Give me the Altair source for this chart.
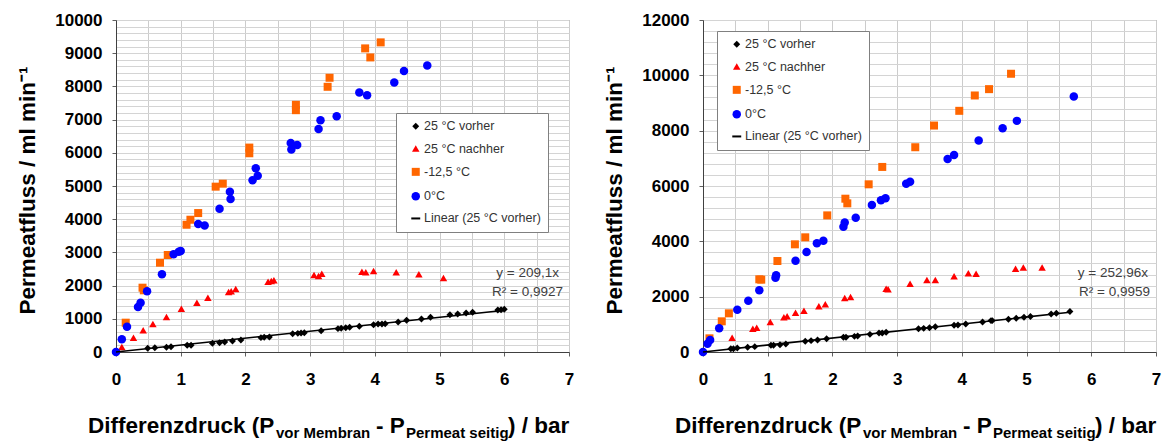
import altair as alt
import pandas as pd

FONT = "Liberation Sans"

SERIES = ["25 °C vorher", "25 °C nachher", "-12,5 °C", "0°C", "Linear (25 °C vorher)\u00a0\u00a0"]
COLORS = ["#000000", "#FF0000", "#FF6600", "#0000FF", "#000000"]
SHAPES = ["diamond", "triangle-up", "square", "circle", "stroke"]
SIZES = [48, 80, 64, 85, 324]
STROKES = ["transparent", "transparent", "transparent", "transparent", "#000000"]

# ---------------- left panel ----------------
L_vorher_x = [0.0, 0.49, 0.60, 0.78, 0.85, 1.10, 1.16, 1.49, 1.60, 1.68, 1.80, 1.93, 2.24, 2.29, 2.37,
              2.73, 2.81, 2.86, 2.91, 3.17, 3.43, 3.48, 3.55, 3.61, 3.76, 3.98, 4.05, 4.11, 4.16, 4.36,
              4.49, 4.72, 4.86, 5.16, 5.28, 5.41, 5.51, 5.90, 5.95, 6.00]
L_vorher_y = [0, 111, 130, 141, 160, 201, 201, 261, 281, 301, 331, 361, 432, 442, 452,
              552, 562, 572, 582, 642, 703, 713, 733, 743, 773, 823, 843, 843, 853, 904,
              954, 994, 1045, 1124, 1145, 1175, 1196, 1265, 1274, 1286]
L_nachher_x = [0.09, 0.27, 0.42, 0.57, 0.78, 1.01, 1.25, 1.42, 1.74, 1.78, 1.85, 2.35, 2.40, 2.44,
               3.06, 3.13, 3.18, 3.80, 3.86, 3.98, 4.33, 4.68, 5.06]
L_nachher_y = [151, 431, 653, 843, 1054, 1305, 1486, 1636, 1807, 1828, 1898, 2118, 2139, 2160,
               2319, 2289, 2359, 2419, 2400, 2440, 2400, 2340, 2229]
L_minus_x = [0.15, 0.41, 0.43, 0.68, 0.80, 1.09, 1.15, 1.27, 1.54, 1.65, 2.06, 2.06, 2.78, 2.78,
             3.27, 3.30, 3.85, 3.93, 4.09]
L_minus_y = [883, 1937, 1858, 2690, 2922, 3833, 3984, 4185, 4980, 5070, 6157, 5986, 7445, 7284,
             7988, 8260, 9145, 8873, 9326]
L_null_x = [0.0, 0.09, 0.17, 0.34, 0.38, 0.48, 0.71, 0.89, 0.97, 1.00, 1.27, 1.37, 1.60, 1.76, 1.77,
            2.11, 2.16, 2.19, 2.70, 2.71, 2.80, 3.13, 3.16, 3.41, 3.76, 3.88, 4.30, 4.45, 4.81]
L_null_y = [0, 382, 763, 1355, 1486, 1828, 2340, 2942, 3021, 3042, 3853, 3813, 4316, 4829, 4608,
            5171, 5533, 5312, 6298, 6097, 6237, 6720, 6982, 7103, 7817, 7736, 8119, 8461, 8632]
L_slope = 209.1
L_fit_x = [0.0, 6.01]
L_eq = ["y = 209,1x", "R² = 0,9927"]

# ---------------- right panel ----------------
R_vorher_x = [0.0, 0.43, 0.47, 0.53, 0.69, 0.80, 1.05, 1.09, 1.19, 1.28, 1.58, 1.67, 1.77, 1.91,
              2.17, 2.21, 2.34, 2.39, 2.58, 2.72, 2.77, 2.83, 3.33, 3.41, 3.50, 3.59, 3.88, 3.94,
              4.06, 4.32, 4.45, 4.47, 4.72, 4.84, 4.96, 5.06, 5.38, 5.46, 5.67]
R_vorher_y = [0, 120, 120, 145, 169, 193, 241, 241, 265, 289, 386, 410, 434, 482,
              530, 530, 566, 578, 638, 687, 687, 711, 843, 855, 879, 915, 966, 978,
              1014, 1087, 1135, 1135, 1183, 1219, 1256, 1280, 1376, 1400, 1461]
R_nachher_x = [0.45, 0.77, 0.83, 1.04, 1.25, 1.30, 1.43, 1.56, 1.79, 1.89, 2.19, 2.28, 2.83, 2.86,
               3.20, 3.46, 3.59, 3.88, 4.10, 4.22, 4.83, 4.95, 5.24]
R_nachher_y = [518, 843, 879, 1084, 1253, 1289, 1422, 1494, 1651, 1723, 1952, 1988, 2289, 2265,
               2470, 2602, 2602, 2741, 2849, 2825, 3006, 3054, 3054]
R_minus_x = [0.10, 0.29, 0.40, 0.87, 0.90, 1.15, 1.42, 1.58, 1.92, 2.20, 2.23, 2.56, 2.77, 3.28,
             3.57, 3.96, 4.20, 4.42, 4.76]
R_minus_y = [494, 1109, 1398, 2627, 2615, 3289, 3892, 4145, 4938, 5541, 5373, 6061, 6689, 7401,
             8185, 8717, 9272, 9501, 10057]
R_null_x = [0.0, 0.07, 0.11, 0.25, 0.53, 0.70, 0.87, 1.12, 1.13, 1.43, 1.60, 1.76, 1.86, 2.17, 2.19,
            2.36, 2.61, 2.75, 2.82, 3.14, 3.20, 3.78, 3.88, 4.26, 4.63, 4.85, 5.73]
R_null_y = [0, 301, 434, 855, 1530, 1855, 2229, 2687, 2771, 3301, 3614, 3928, 4024, 4527, 4684,
            4853, 5312, 5481, 5554, 6085, 6157, 6978, 7123, 7642, 8089, 8354, 9236]
R_slope = 252.96
R_fit_x = [0.0, 5.67]
R_eq = ["y = 252,96x", "R² = 0,9959"]

X_TICKS = [i * 0.5 for i in range(15)]
W, H = 453, 332


def long_frame(pairs):
    rows = []
    for name, xs, ys in pairs:
        for a, b in zip(xs, ys):
            rows.append({"series": name, "x": a, "y": b})
    return pd.DataFrame(rows)


def title_piece(text, size, px, py):
    return alt.Chart(pd.DataFrame({"t": [text]})).mark_text(
        font=FONT, fontSize=size, fontWeight="bold", align="left", baseline="alphabetic",
        color="#000000"
    ).encode(text="t:N", x=alt.value(px), y=alt.value(py))


def panel(pairs, slope, fit_x, eq, ymax, ymajor, yminor, eq_right, legend_xy):
    df = long_frame(pairs)
    y_ticks = list(range(0, ymax + 1, yminor))
    xscale = alt.Scale(domain=[0, 7], nice=False, zero=False)
    yscale = alt.Scale(domain=[0, ymax], nice=False)
    xaxis = alt.Axis(
        values=X_TICKS, title=None,
        labelExpr="datum.value % 1 === 0 ? format(datum.value, 'd') : ''",
        labelFont=FONT, labelFontSize=17, labelFontWeight="bold", labelColor="#000000",
        labelPadding=15, labelFlush=False, labelOverlap=False,
        tickSize=4,
        tickColor={"condition": {"test": "datum.value % 1 === 0", "value": "#606060"}, "value": "#ffffff"},
        grid=True, gridColor="#cccccc", gridWidth=1, gridOpacity=1,
        domainColor="#404040",
    )
    yaxis = alt.Axis(
        values=y_ticks, title="Permeatfluss / ml min⁻¹",
        labelExpr=f"datum.value % {ymajor} === 0 ? format(datum.value, 'd') : ''",
        labelFont=FONT, labelFontSize=17, labelFontWeight="bold", labelColor="#000000",
        labelPadding=10, labelFlush=False, labelOverlap=False,
        tickSize=4,
        tickColor={"condition": {"test": f"datum.value % {ymajor} === 0", "value": "#606060"}, "value": "#ffffff"},
        grid=True, gridColor="#d4d4d4", gridWidth=1, gridOpacity=1,
        domainColor="#404040",
        titleFont=FONT, titleFontSize=22.5, titleFontWeight="bold", titleColor="#000000",
        titleAngle=-90, titleX=-82, titleY=H / 2 + 4, titleBaseline="alphabetic", titleAlign="center",
    )
    legend = alt.Legend(
        orient="none", legendX=legend_xy[0], legendY=legend_xy[1], title=None,
        fillColor="#ffffff", strokeColor="#808080", padding=7, symbolOffset=6.5,
        labelFont=FONT, labelFontSize=12.5, labelColor="#333333", labelOffset=2,
        rowPadding=7.3, symbolStrokeWidth=2,
    )
    points = alt.Chart(df).mark_point(filled=True, opacity=1).encode(
        x=alt.X("x:Q", scale=xscale, axis=xaxis),
        y=alt.Y("y:Q", scale=yscale, axis=yaxis),
        color=alt.Color("series:N", scale=alt.Scale(domain=SERIES, range=COLORS), legend=legend, sort=SERIES),
        shape=alt.Shape("series:N", scale=alt.Scale(domain=SERIES, range=SHAPES), legend=legend, sort=SERIES),
        size=alt.Size("series:N", scale=alt.Scale(domain=SERIES, range=SIZES), legend=legend, sort=SERIES),
        stroke=alt.Stroke("series:N", scale=alt.Scale(domain=SERIES, range=STROKES), legend=legend, sort=SERIES),
    )
    fit = alt.Chart(pd.DataFrame({"x": fit_x})).transform_calculate(
        y=f"{slope} * datum.x"
    ).mark_line(color="#000000", strokeWidth=1.6).encode(
        x=alt.X("x:Q", scale=xscale, axis=xaxis), y=alt.Y("y:Q", scale=yscale, axis=yaxis)
    )
    eq1 = alt.Chart(pd.DataFrame({"t": [eq[0]]})).mark_text(
        font=FONT, fontSize=13.5, color="#404040", align="right", baseline="middle"
    ).encode(text="t:N", x=alt.value(eq_right[0]), y=alt.value(253))
    eq2 = alt.Chart(pd.DataFrame({"t": [eq[1]]})).mark_text(
        font=FONT, fontSize=13.5, color="#404040", align="right", baseline="middle"
    ).encode(text="t:N", x=alt.value(eq_right[1]), y=alt.value(272))
    pieces = [
        title_piece("Differenzdruck (P", 22.5, -28, 413),
        title_piece("vor Membran", 15, 160, 418),
        title_piece("- P", 22.5, 260, 413),
        title_piece("Permeat seitig", 15, 290, 418),
        title_piece(") / bar", 22.5, 392, 413),
    ]
    return alt.layer(points, fit, eq1, eq2, *pieces).properties(width=W, height=H)


left = panel(
    [(SERIES[0], L_vorher_x, L_vorher_y), (SERIES[1], L_nachher_x, L_nachher_y),
     (SERIES[2], L_minus_x, L_minus_y), (SERIES[3], L_null_x, L_null_y)],
    L_slope, L_fit_x, L_eq, 10000, 1000, 200, (443, 447), (280, 93),
)
right = panel(
    [(SERIES[0], R_vorher_x, R_vorher_y), (SERIES[1], R_nachher_x, R_nachher_y),
     (SERIES[2], R_minus_x, R_minus_y), (SERIES[3], R_null_x, R_null_y)],
    R_slope, R_fit_x, R_eq, 12000, 2000, 400, (445, 447), (14, 11),
)

chart = alt.hconcat(left, right, spacing=134, bounds="flush").resolve_scale(
    x="independent", y="independent", color="independent", shape="independent",
    size="independent", stroke="independent"
).resolve_legend(
    color="independent", shape="independent", size="independent", stroke="independent"
).properties(
    padding={"left": 15, "top": 10, "right": 0, "bottom": 0}, background="#ffffff"
).configure_view(stroke="#808080", strokeWidth=1)

chart.save("out.html", embed_options={"renderer": "svg", "actions": False})
